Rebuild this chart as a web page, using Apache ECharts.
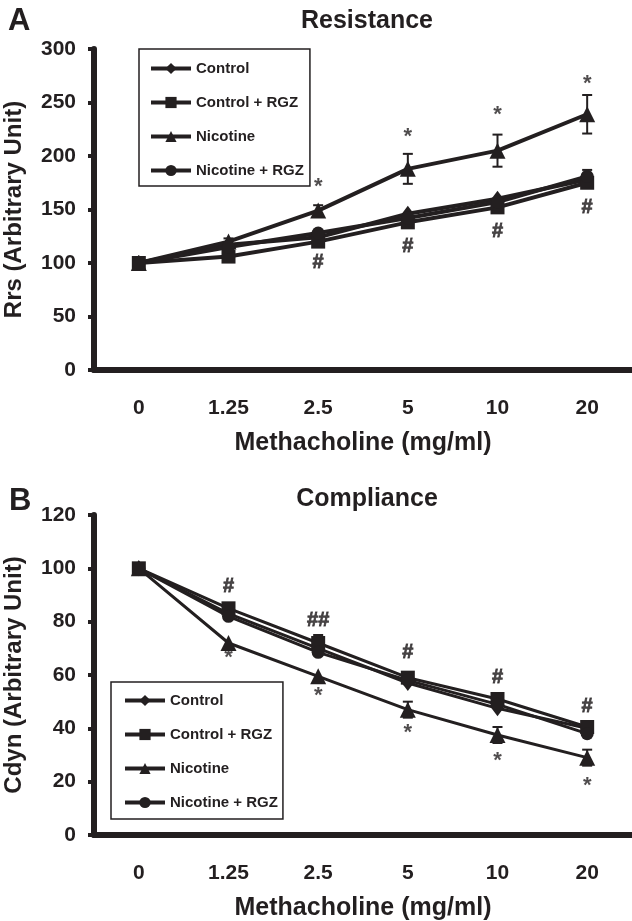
<!DOCTYPE html>
<html>
<head>
<meta charset="utf-8">
<script src="https://cdn.jsdelivr.net/npm/echarts@6/dist/echarts.min.js"></script>
<style>
html,body{margin:0;padding:0;background:#fff;}
#c{width:632px;height:921px;}
</style>
</head>
<body>
<div id="c"></div>
<script>
// ---- data ----
const doses = ['0', '1.25', '2.5', '5', '10', '20'];
const seriesNames = ['Control', 'Control + RGZ', 'Nicotine', 'Nicotine + RGZ'];

// Resistance (Rrs)
const rControl      = [100, 117, 124, 146, 160, 178];
const rControlRGZ   = [100, 106, 120, 138, 152, 175];
const rNicotine     = [100, 120, 149, 188, 205, 239];
const rNicotineRGZ  = [100, 115, 128, 142, 157, 181];
const rNicotineErr    = [0, 3, 5, 14, 15, 18];
const rNicotineRGZErr = [0, 0, 0, 0, 0, 6];
const rStars  = [[2, 177], [3, 223], [4, 244], [5, 273]];
const rHashes = [[2, 101], [3, 116], [4, 130], [5, 153]];

// Compliance (Cdyn)
const cControl      = [100, 83, 70, 57, 47.5, 40];
const cControlRGZ   = [100, 85, 72, 59, 51, 40.5];
const cNicotine     = [100, 72, 59.5, 47, 37.5, 29];
const cNicotineRGZ  = [100, 82, 68.5, 58, 49, 38];
const cControlRGZErr = [0, 0, 3, 0, 0, 0];
const cNicotineErr   = [0, 0, 0, 3, 3, 3];
const cStars  = [[1, 68.7], [2, 54.4], [3, 40.6], [4, 30], [5, 20.6]];
const cHashes = [[1, 93.7, '#'], [2, 81, '##'], [3, 68.75, '#'], [4, 59.4, '#'], [5, 48.75, '#']];

const yTicksR = {min: 0, max: 300, interval: 50};
const yTicksC = {min: 0, max: 120, interval: 20};

// ---- style ----
const INK = '#231f20';
const FONT = '"Liberation Sans", Arial, sans-serif';
const symbols = {
  'Control': {symbol: 'diamond', size: [12, 16]},
  'Control + RGZ': {symbol: 'rect', size: 14},
  'Nicotine': {symbol: 'triangle', size: 16},
  'Nicotine + RGZ': {symbol: 'circle', size: 13}
};

function lineSeries(name, data, gi, lw) {
  return {
    type: 'line', name: name, data: data,
    xAxisIndex: gi, yAxisIndex: gi,
    symbol: symbols[name].symbol, symbolSize: symbols[name].size,
    lineStyle: {color: INK, width: lw},
    itemStyle: {color: INK, borderWidth: 0},
    emphasis: {disabled: true}, animation: false, z: 3
  };
}
function errSeries(vals, errs, gi) {
  return {
    type: 'custom', xAxisIndex: gi, yAxisIndex: gi, animation: false, z: 2,
    data: vals.map((v, i) => [i, v, errs[i]]),
    encode: {x: 0, y: 1},
    renderItem: function (params, api) {
      const x = api.value(0), y = api.value(1), e = api.value(2);
      if (!e) return null;
      const t = api.coord([x, y + e]), b = api.coord([x, y - e]);
      const hw = 5;
      const st = {stroke: INK, lineWidth: 2};
      return {type: 'group', children: [
        {type: 'line', shape: {x1: t[0], y1: t[1], x2: b[0], y2: b[1]}, style: st},
        {type: 'line', shape: {x1: t[0] - hw, y1: t[1], x2: t[0] + hw, y2: t[1]}, style: st},
        {type: 'line', shape: {x1: b[0] - hw, y1: b[1], x2: b[0] + hw, y2: b[1]}, style: st}
      ]};
    }
  };
}
function noteSeries(points, defText, gi, dy, size, border) {
  return {
    type: 'scatter', xAxisIndex: gi, yAxisIndex: gi, symbolSize: 0, animation: false, z: 4,
    itemStyle: {color: INK},
    data: points.map(p => [p[0], p[1], p[2] || defText]),
    label: {show: true, position: 'inside', offset: [0, dy],
      formatter: p => p.value[2], color: INK, fontSize: size, fontWeight: 'bold', fontFamily: FONT,
      textBorderWidth: border, textBorderColor: border ? INK : 'transparent'},
    emphasis: {disabled: true}
  };
}
function xAxis(gi) {
  return {
    type: 'category', gridIndex: gi, data: doses, boundaryGap: true,
    axisLine: {lineStyle: {color: INK, width: 6}},
    axisTick: {alignWithLabel: true, length: 6, lineStyle: {color: INK, width: 4}},
    axisLabel: {color: INK, fontSize: 21, fontWeight: 'bold', fontFamily: FONT, margin: 28},
    name: 'Methacholine (mg/ml)', nameLocation: 'middle', nameGap: 61,
    nameTextStyle: {color: INK, fontSize: 25, fontWeight: 'bold', fontFamily: FONT},
    splitLine: {show: false}
  };
}
function yAxis(gi, ticks, name) {
  return {
    type: 'value', gridIndex: gi, min: ticks.min, max: ticks.max, interval: ticks.interval,
    axisLine: {show: true, lineStyle: {color: INK, width: 6}},
    axisTick: {show: true, length: 6, lineStyle: {color: INK, width: 4}},
    axisLabel: {color: INK, fontSize: 21, fontWeight: 'bold', fontFamily: FONT, margin: 18},
    splitLine: {show: false},
    name: name, nameLocation: 'middle', nameGap: 68,
    nameTextStyle: {color: INK, fontSize: 24, fontWeight: 'bold', fontFamily: FONT}
  };
}
function legend(left, top, pad) {
  return {
    data: seriesNames, orient: 'vertical', left: left, top: top,
    itemWidth: 40, itemHeight: 14, itemGap: 19, padding: pad,
    borderColor: INK, borderWidth: 1.5, borderRadius: 0, backgroundColor: '#fff',
    selectedMode: false,
    lineStyle: {width: 4, color: INK},
    textStyle: {color: INK, fontSize: 15, fontWeight: 'bold', fontFamily: FONT}
  };
}

const chart = echarts.init(document.getElementById('c'), null, {renderer: 'canvas'});
chart.setOption({
  backgroundColor: '#fff',
  animation: false,
  title: [
    {text: 'A', left: 3, top: 1, textStyle: {color: INK, fontSize: 31, fontWeight: 'bold', fontFamily: FONT}},
    {text: 'Resistance', left: 362, top: 4, textAlign: 'center', textStyle: {color: INK, fontSize: 25, fontWeight: 'bold', fontFamily: FONT}},
    {text: 'B', left: 4, top: 481, textStyle: {color: INK, fontSize: 31, fontWeight: 'bold', fontFamily: FONT}},
    {text: 'Compliance', left: 362, top: 482, textAlign: 'center', textStyle: {color: INK, fontSize: 25, fontWeight: 'bold', fontFamily: FONT}}
  ],
  legend: [legend(139, 49, [12, 6, 8, 10]), legend(111, 682, [11, 5, 9, 12])],
  grid: [
    {left: 94, right: 0, top: 49, height: 321, outerBoundsMode: 'none'},
    {left: 94, right: 0, top: 515, height: 320, outerBoundsMode: 'none'}
  ],
  xAxis: [xAxis(0), xAxis(1)],
  yAxis: [yAxis(0, yTicksR, 'Rrs (Arbitrary Unit)'), yAxis(1, yTicksC, 'Cdyn (Arbitrary Unit)')],
  series: [
    errSeries(rNicotine, rNicotineErr, 0),
    errSeries(rNicotineRGZ, rNicotineRGZErr, 0),
    lineSeries('Control', rControl, 0, 4),
    lineSeries('Control + RGZ', rControlRGZ, 0, 4),
    lineSeries('Nicotine', rNicotine, 0, 4),
    lineSeries('Nicotine + RGZ', rNicotineRGZ, 0, 4),
    noteSeries(rStars, '*', 0, 6, 22, 0),
    noteSeries(rHashes, '#', 0, 1, 20, 0.8),
    errSeries(cControlRGZ, cControlRGZErr, 1),
    errSeries(cNicotine, cNicotineErr, 1),
    lineSeries('Control', cControl, 1, 3),
    lineSeries('Control + RGZ', cControlRGZ, 1, 3),
    lineSeries('Nicotine', cNicotine, 1, 3),
    lineSeries('Nicotine + RGZ', cNicotineRGZ, 1, 3),
    noteSeries(cStars, '*', 1, 6, 22, 0),
    noteSeries(cHashes, '#', 1, 1, 20, 0.8)
  ]
});
</script>
</body>
</html>
